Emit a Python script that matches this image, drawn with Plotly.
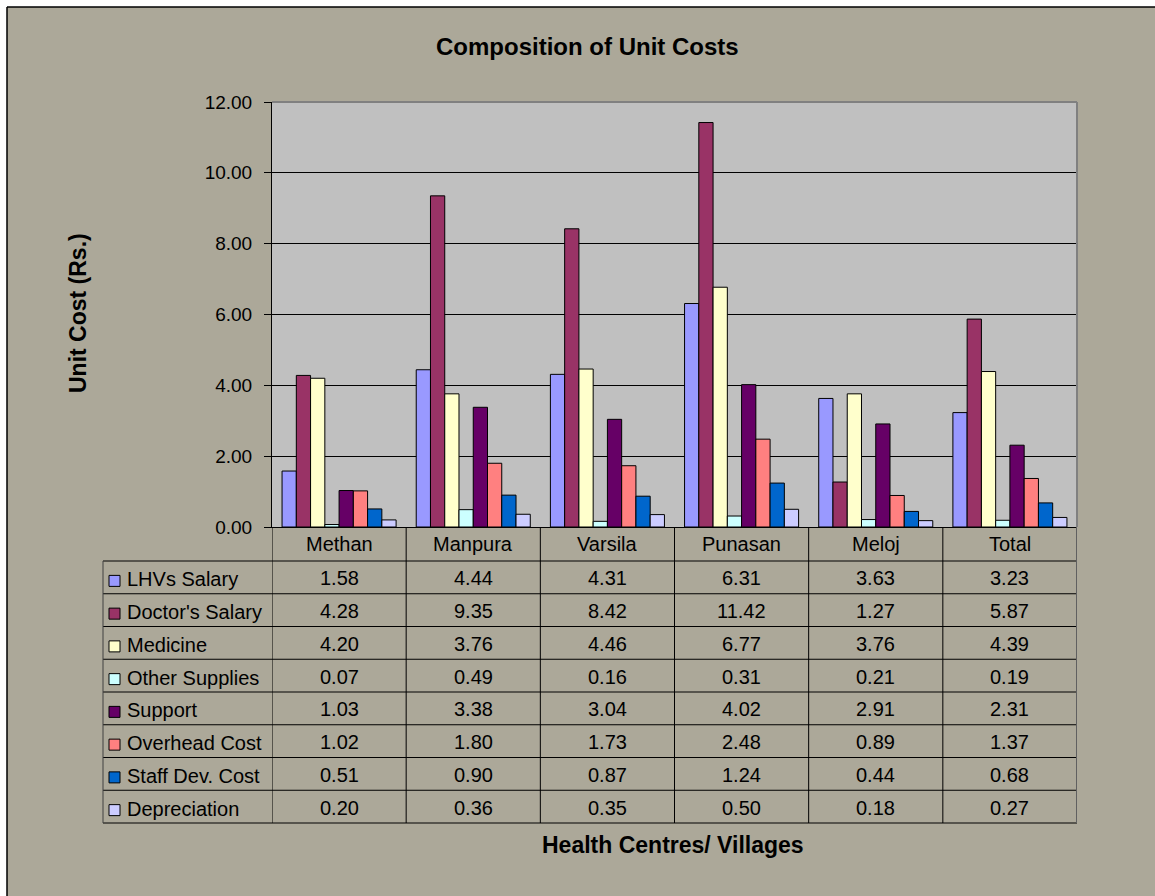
import plotly.graph_objects as go

# ---- data ----
centres = ["Methan", "Manpura", "Varsila", "Punasan", "Meloj", "Total"]
cost_heads = ["LHVs Salary", "Doctor's Salary", "Medicine", "Other Supplies",
              "Support", "Overhead Cost", "Staff Dev. Cost", "Depreciation"]
lhv_salary = [1.58, 4.44, 4.31, 6.31, 3.63, 3.23]
doctor_salary = [4.28, 9.35, 8.42, 11.42, 1.27, 5.87]
medicine = [4.20, 3.76, 4.46, 6.77, 3.76, 4.39]
other_supplies = [0.07, 0.49, 0.16, 0.31, 0.21, 0.19]
support = [1.03, 3.38, 3.04, 4.02, 2.91, 2.31]
overhead_cost = [1.02, 1.80, 1.73, 2.48, 0.89, 1.37]
staff_dev_cost = [0.51, 0.90, 0.87, 1.24, 0.44, 0.68]
depreciation = [0.20, 0.36, 0.35, 0.50, 0.18, 0.27]
y_ticks = [0, 2, 4, 6, 8, 10, 12]

series_values = [lhv_salary, doctor_salary, medicine, other_supplies,
                 support, overhead_cost, staff_dev_cost, depreciation]
series_colors = ["#9999FF", "#993366", "#FFFFCC", "#CCFFFF",
                 "#660066", "#FF8080", "#0066CC", "#CCCCFF"]

# ---- page geometry (pixels) ----
W, H = 1155, 896
FONT = "Liberation Sans, Arial, sans-serif"
BG = "#ACA899"
TABLE_FONT = 20


def px(x):
    return x / W


def py(y):
    return 1 - y / H


plot_left, plot_right, plot_top, plot_bottom = 272, 1077, 102, 527
table_left = 103
header_bottom = 561
row_h = 32.75
row_edges = [header_bottom + i * row_h for i in range(len(cost_heads) + 1)]
table_bottom = row_edges[-1]

fig = go.Figure()
for name, vals, col in zip(cost_heads, series_values, series_colors):
    fig.add_trace(go.Bar(
        name=name, x=centres, y=vals,
        marker=dict(color=col, line=dict(color="black", width=1)),
        showlegend=False,
    ))

shapes = []
# white margin strips and outer chart frame
shapes.append(dict(type="rect", xref="paper", yref="paper", x0=0, x1=1,
                   y0=py(7), y1=1, fillcolor="white", line_width=0, layer="below"))
shapes.append(dict(type="rect", xref="paper", yref="paper", x0=0, x1=px(7),
                   y0=0, y1=1, fillcolor="white", line_width=0, layer="below"))
shapes.append(dict(type="line", xref="paper", yref="paper", x0=px(7), x1=1,
                   y0=py(7), y1=py(7), line=dict(color="black", width=1.5)))
shapes.append(dict(type="line", xref="paper", yref="paper", x0=px(7), x1=px(7),
                   y0=0, y1=py(7), line=dict(color="black", width=1.5)))
# plot-area border (top and right)
shapes.append(dict(type="line", xref="paper", yref="paper", x0=px(plot_left), x1=px(plot_right),
                   y0=py(plot_top), y1=py(plot_top), line=dict(color="#808080", width=2)))
shapes.append(dict(type="line", xref="paper", yref="paper", x0=px(plot_right), x1=px(plot_right),
                   y0=py(plot_top), y1=py(plot_bottom), line=dict(color="#808080", width=2)))

# data table: horizontal rules
for yy in row_edges:
    shapes.append(dict(type="line", xref="paper", yref="paper",
                       x0=px(table_left), x1=px(plot_right), y0=py(yy), y1=py(yy),
                       line=dict(color="black", width=1)))
# data table: vertical rules at category boundaries
for k in range(len(centres) + 1):
    xv = k - 0.5
    last = k == len(centres)
    shapes.append(dict(type="line", xref="x", yref="paper", x0=xv, x1=xv,
                       y0=py(table_bottom), y1=py(plot_bottom),
                       line=dict(color="#606060" if last else "black", width=2 if last else 1)))
# left edge of the series-name column
shapes.append(dict(type="line", xref="paper", yref="paper", x0=px(table_left), x1=px(table_left),
                   y0=py(table_bottom), y1=py(header_bottom),
                   line=dict(color="#404040", width=1)))

annotations = []
# category header row
for c in centres:
    annotations.append(dict(x=c, xref="x", y=py((plot_bottom + header_bottom) / 2), yref="paper",
                            text=c, showarrow=False, xanchor="center", yanchor="middle",
                            font=dict(family=FONT, size=TABLE_FONT, color="black")))
# series rows: key square, name, values
for r, (name, vals, col) in enumerate(zip(cost_heads, series_values, series_colors)):
    yc = (row_edges[r] + row_edges[r + 1]) / 2
    shapes.append(dict(type="rect", xref="paper", yref="paper",
                       x0=px(109), x1=px(120), y0=py(yc + 9), y1=py(yc - 2),
                       fillcolor=col, line=dict(color="black", width=1)))
    annotations.append(dict(x=px(125), xref="paper", y=py(yc + 2), yref="paper",
                            text=name, showarrow=False, xanchor="left", yanchor="middle",
                            font=dict(family=FONT, size=TABLE_FONT, color="black")))
    for c, v in zip(centres, vals):
        annotations.append(dict(x=c, xref="x", y=py(yc + 1), yref="paper",
                                text=f"{v:.2f}", showarrow=False, xanchor="center",
                                yanchor="middle",
                                font=dict(family=FONT, size=TABLE_FONT, color="black")))

# titles
annotations.append(dict(x=px(588), y=py(47), xref="paper", yref="paper",
                        text="<b>Composition of Unit Costs</b>", showarrow=False,
                        xanchor="center", yanchor="middle",
                        font=dict(family=FONT, size=24, color="black")))
annotations.append(dict(x=px(78), y=py(313), xref="paper", yref="paper",
                        text="<b>Unit Cost (Rs.)</b>", showarrow=False, textangle=-90,
                        xanchor="center", yanchor="middle",
                        font=dict(family=FONT, size=23, color="black")))
annotations.append(dict(x=px(673), y=py(845), xref="paper", yref="paper",
                        text="<b>Health Centres/ Villages</b>", showarrow=False,
                        xanchor="center", yanchor="middle",
                        font=dict(family=FONT, size=23, color="black")))

fig.update_layout(
    width=W, height=H,
    margin=dict(l=0, r=0, t=0, b=0, pad=0, autoexpand=False),
    paper_bgcolor=BG, plot_bgcolor="#C0C0C0",
    barmode="group", bargap=0.15, bargroupgap=0,
    font=dict(family=FONT, size=19, color="black"),
    shapes=shapes, annotations=annotations,
    xaxis=dict(domain=[px(plot_left), px(plot_right)], showticklabels=False,
               ticks="", showgrid=False, showline=True, linecolor="black", linewidth=1,
               range=[-0.5, len(centres) - 0.5], zeroline=False, automargin=False),
    yaxis=dict(domain=[py(plot_bottom), py(plot_top)], range=[0, 12],
               tickvals=y_ticks, ticktext=[f"{t:.2f}" for t in y_ticks],
               ticks="outside", ticklen=7, tickcolor="black", tickwidth=1,
               ticklabelstandoff=8, automargin=False,
               showgrid=True, gridcolor="black", gridwidth=1,
               showline=True, linecolor="black", linewidth=1, zeroline=False,
               tickfont=dict(family=FONT, size=19, color="black")),
)

fig.write_html("out.html")
